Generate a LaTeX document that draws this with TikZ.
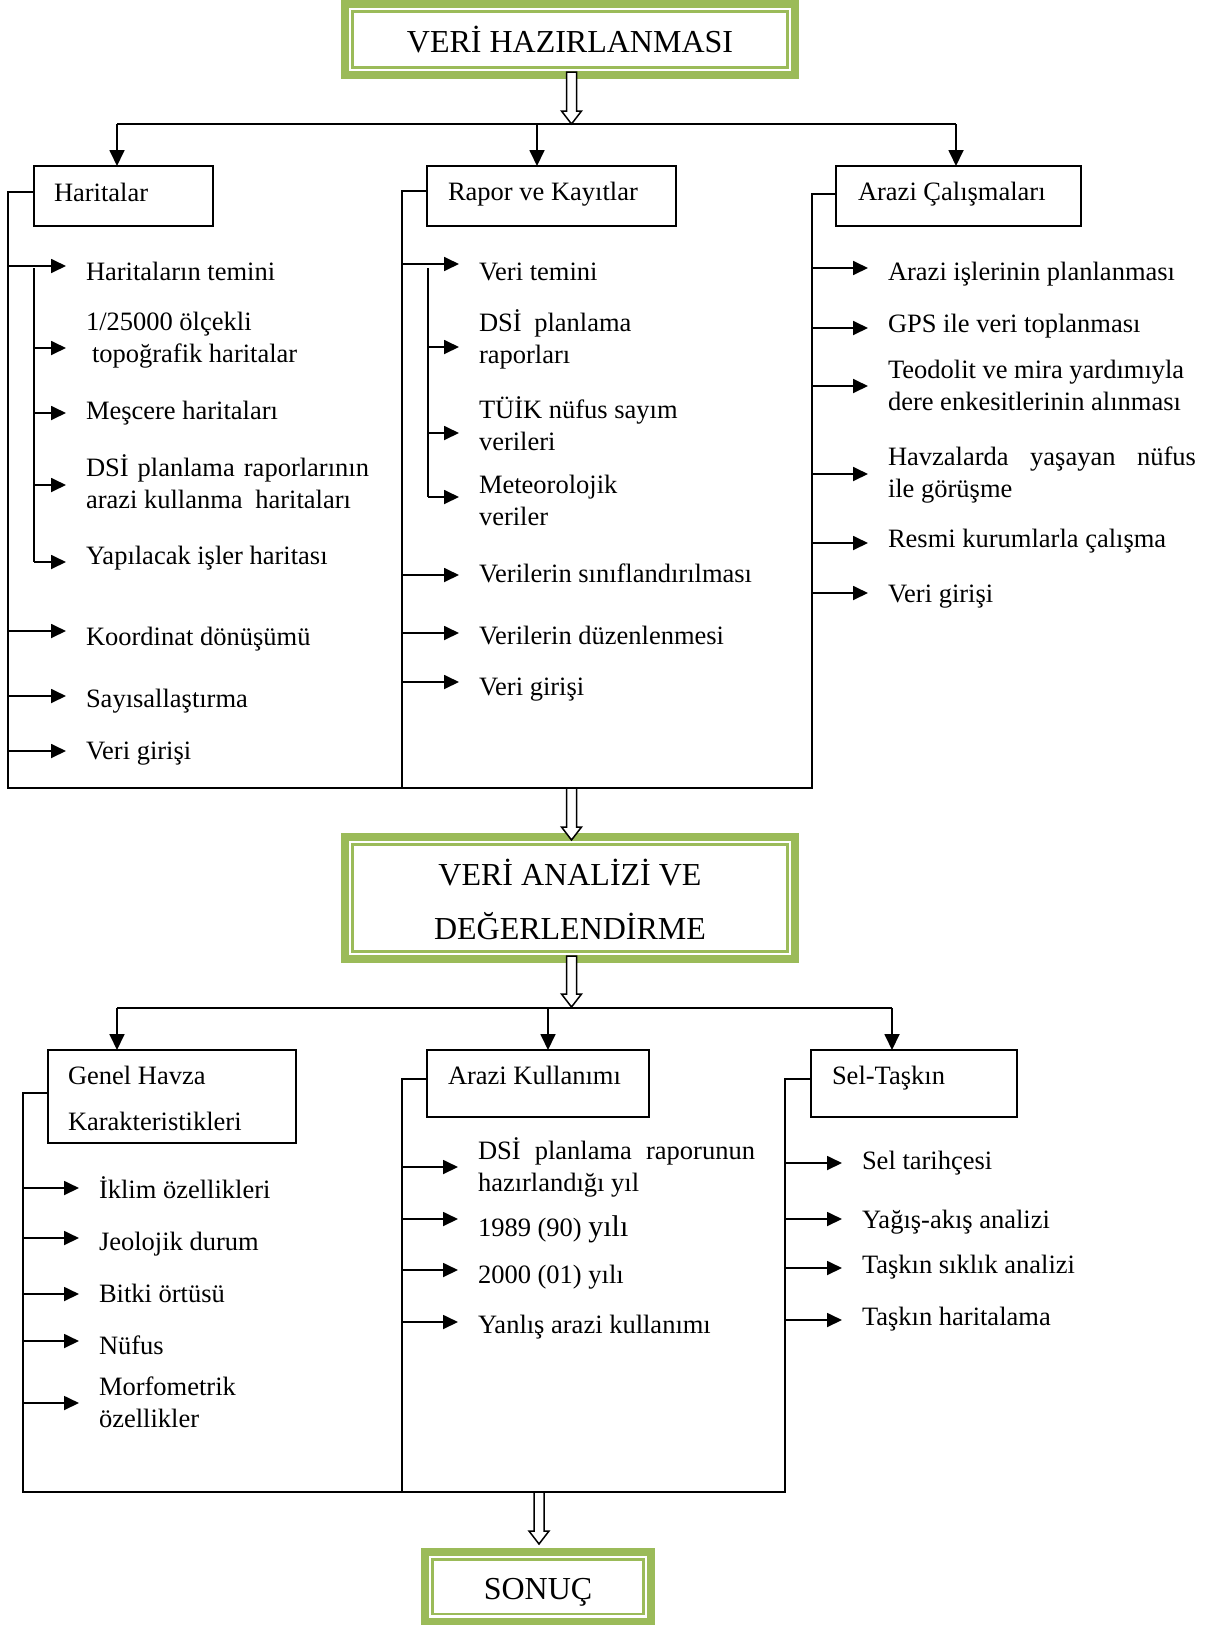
\documentclass[tikz,border=0pt]{standalone}
\usepackage{fontspec}
\setmainfont{Liberation Serif}
\usetikzlibrary{arrows.meta,calc}
\definecolor{accgreen}{HTML}{9BBB59}
\newcommand\flitem[6]{%
  \node[itemtext] (#1) at (#4,#5) {#6};
  \coordinate (#1s) at (#2,#3);
  \draw[itemarrow] (#1s) -- (#1s -| #1.west);}
\newcommand\hollowarr[3]{%
  \draw[hollowst] ({#1-5},#2) -- ({#1-5},{#3-13}) -- ({#1-10},{#3-13}) -- (#1,#3)
    -- ({#1+10},{#3-13}) -- ({#1+5},{#3-13}) -- ({#1+5},#2) -- cycle;}
\begin{document}
\begin{tikzpicture}[x=1pt,y=-1pt,
  natsp/.style={execute at begin node={\spaceskip=0pt\xspaceskip=0pt\relax}},
  conn/.style={draw=black, line width=1.8pt},
  itemarrow/.style={conn, -{Triangle[length=15pt,width=14pt]}, shorten >=20pt},
  downarrow/.style={conn, -{Triangle[length=16pt,width=15pt]}},
  titlebox/.style={natsp, draw=accgreen, line width=8pt, fill=white, inner sep=0pt, outer sep=0pt, font=\fontsize{32}{38}\selectfont},
  thinframe/.style={draw=accgreen, line width=2.2pt},
  lbox/.style={natsp, draw=black, line width=2pt, inner ysep=0pt, outer sep=0pt, anchor=north west, font=\fontsize{26.5}{32}\selectfont},
  itemtext/.style={natsp, inner sep=0pt, outer sep=0pt, text width=330pt, anchor=base west, font=\fontsize{26.5}{32}\selectfont},
  hollowst/.style={draw=black, fill=white, line width=1.5pt, line join=miter}
]
\clip (0,0) rectangle (1213,1625);
\fill[white] (0,0) rectangle (1213,1625);

% ---- title boxes
\node[titlebox, minimum width=450pt, text height=48pt, text depth=23pt] (t1) at (570,39.5) {VERİ HAZIRLANMASI};
\draw[thinframe] ([shift={(7.5,7.5)}]t1.north west) rectangle ([shift={(-7.5,-7.5)}]t1.south east);

\node[titlebox, text width=450pt, text height=48pt, text depth=74pt] (t2) at (570,898) {\centering VERİ ANALİZİ VE\\[16pt]DEĞERLENDİRME\par};
\draw[thinframe] ([shift={(7.5,7.5)}]t2.north west) rectangle ([shift={(-7.5,-7.5)}]t2.south east);

\node[titlebox, minimum width=226pt, text height=47pt, text depth=22.5pt] (t3) at (538,1586.75) {SONUÇ};
\draw[thinframe] ([shift={(7.5,7.5)}]t3.north west) rectangle ([shift={(-7.5,-7.5)}]t3.south east);

% ---- level 1 boxes
\node[lbox, inner xsep=20pt, text width=139pt, text height=35pt, text depth=25pt] (har) at (34,166) {Haritalar};
\node[lbox, inner xsep=21pt, text width=207pt, text height=34pt, text depth=26pt] (rap) at (427,166) {Rapor ve Kayıtlar};
\node[lbox, inner xsep=22pt, text width=201pt, text height=34pt, text depth=26pt] (ara) at (836,166) {Arazi Çalışmaları};

\coordinate (l1a) at (117,124);
\coordinate (l1b) at (537,124);
\coordinate (l1c) at (956,124);
\draw[conn] (l1a) -- (l1c);
\draw[downarrow] (l1a) -- (l1a |- har.north);
\draw[downarrow] (l1b) -- (l1b |- rap.north);
\draw[downarrow] (l1c) -- (l1c |- ara.north);

\coordinate (b1L) at (8,788);
\coordinate (b1M) at (402,788);
\coordinate (b1R) at (812,788);
\draw[conn] ([yshift=4pt]har.west) -| (b1L) -- (b1R) |- ([yshift=2pt]ara.west);
\draw[conn] ([yshift=5pt]rap.west) -| (b1M);

% ---- Haritalar items
\flitem{h1}{8}{266}{86}{280}{Haritaların temini}
\flitem{h2}{34}{348}{86}{330}{1/25000 ölçekli\\\hspace*{6pt}topoğrafik haritalar}
\flitem{h3}{34}{413}{86}{419}{Meşcere haritaları}
\flitem{h4}{34}{485}{86}{476}{\makebox[283pt]{DSİ\hfill planlama\hfill raporlarının}\\arazi kullanma\hspace{6pt} haritaları}
\flitem{h5}{34}{562}{86}{564}{Yapılacak işler haritası}
\flitem{h6}{8}{631}{86}{645}{Koordinat dönüşümü}
\flitem{h7}{8}{696}{86}{707}{Sayısallaştırma}
\flitem{h8}{8}{751}{86}{759}{Veri girişi}
\coordinate (hv) at (34,268);
\draw[conn] (hv) -- (h5s);

% ---- Rapor items
\flitem{r1}{402}{264}{479}{280}{Veri temini}
\flitem{r2}{428}{347}{479}{331}{DSİ\hspace{6pt} planlama\\raporları}
\flitem{r3}{428}{433}{479}{418}{TÜİK nüfus sayım\\verileri}
\flitem{r4}{428}{497}{479}{493}{Meteorolojik\\veriler}
\flitem{r6}{402}{575}{479}{582}{Verilerin sınıflandırılması}
\flitem{r7}{402}{633}{479}{644}{Verilerin düzenlenmesi}
\flitem{r8}{402}{682}{479}{695}{Veri girişi}
\coordinate (rv) at (428,268);
\draw[conn] (rv) -- (r4s);

% ---- Arazi items
\flitem{a1}{812}{268}{888}{280}{Arazi işlerinin planlanması}
\flitem{a2}{812}{328}{888}{332}{GPS ile veri toplanması}
\flitem{a3}{812}{386}{888}{378}{Teodolit ve mira yardımıyla\\dere enkesitlerinin alınması}
\flitem{a4}{812}{474}{888}{465}{\makebox[308pt]{Havzalarda\hfill yaşayan\hfill nüfus}\\ile görüşme}
\flitem{a5}{812}{543}{888}{547}{Resmi kurumlarla çalışma}
\flitem{a6}{812}{593}{888}{602}{Veri girişi}

% ---- level 2 boxes
\node[lbox, inner xsep=20pt, text width=208pt, text height=34pt, text depth=59pt] (gen) at (48,1050) {Genel Havza\\[14pt]Karakteristikleri};
\node[lbox, inner xsep=21pt, text width=180pt, text height=34pt, text depth=33pt] (ak) at (427,1050) {Arazi Kullanımı};
\node[lbox, inner xsep=21pt, text width=164pt, text height=34pt, text depth=33pt] (sel) at (811,1050) {Sel-Taşkın};

\coordinate (l2a) at (117,1008);
\coordinate (l2b) at (548,1008);
\coordinate (l2c) at (892,1008);
\draw[conn] (l2a) -- (l2c);
\draw[downarrow] (l2a) -- (l2a |- gen.north);
\draw[downarrow] (l2b) -- (l2b |- ak.north);
\draw[downarrow] (l2c) -- (l2c |- sel.north);

\coordinate (b2L) at (23,1492);
\coordinate (b2M) at (402,1492);
\coordinate (b2R) at (785,1492);
\draw[conn] ([yshift=3.5pt]gen.west) -| (b2L) -- (b2R) |- ([yshift=4.5pt]sel.west);
\draw[conn] ([yshift=4.5pt]ak.west) -| (b2M);

% ---- Genel items
\flitem{g1}{23}{1188}{99}{1198}{İklim özellikleri}
\flitem{g2}{23}{1238}{99}{1250}{Jeolojik durum}
\flitem{g3}{23}{1294}{99}{1302}{Bitki örtüsü}
\flitem{g4}{23}{1341}{99}{1354}{Nüfus}
\flitem{g5}{23}{1403}{99}{1395}{Morfometrik\\özellikler}

% ---- Arazi Kullanimi items
\flitem{k1}{402}{1167}{478}{1159}{\makebox[277pt]{DSİ\hfill planlama\hfill raporunun}\\hazırlandığı yıl}
\flitem{k2}{402}{1219}{478}{1236}{1989 (90) {\fontsize{30}{32}\selectfont yılı}}
\flitem{k3}{402}{1270}{478}{1283}{2000 (01) yılı}
\flitem{k4}{402}{1322}{478}{1333}{Yanlış arazi kullanımı}

% ---- Sel items
\flitem{s1}{785}{1163}{862}{1169}{Sel tarihçesi}
\flitem{s2}{785}{1219}{862}{1228}{Yağış-akış analizi}
\flitem{s3}{785}{1268}{862}{1273}{Taşkın sıklık analizi}
\flitem{s4}{785}{1320}{862}{1325}{Taşkın haritalama}

% ---- hollow block arrows
\hollowarr{571.5}{72}{124}
\hollowarr{571.5}{788}{840}
\hollowarr{571.5}{956}{1007}
\hollowarr{539}{1492}{1544}
\end{tikzpicture}
\end{document}
